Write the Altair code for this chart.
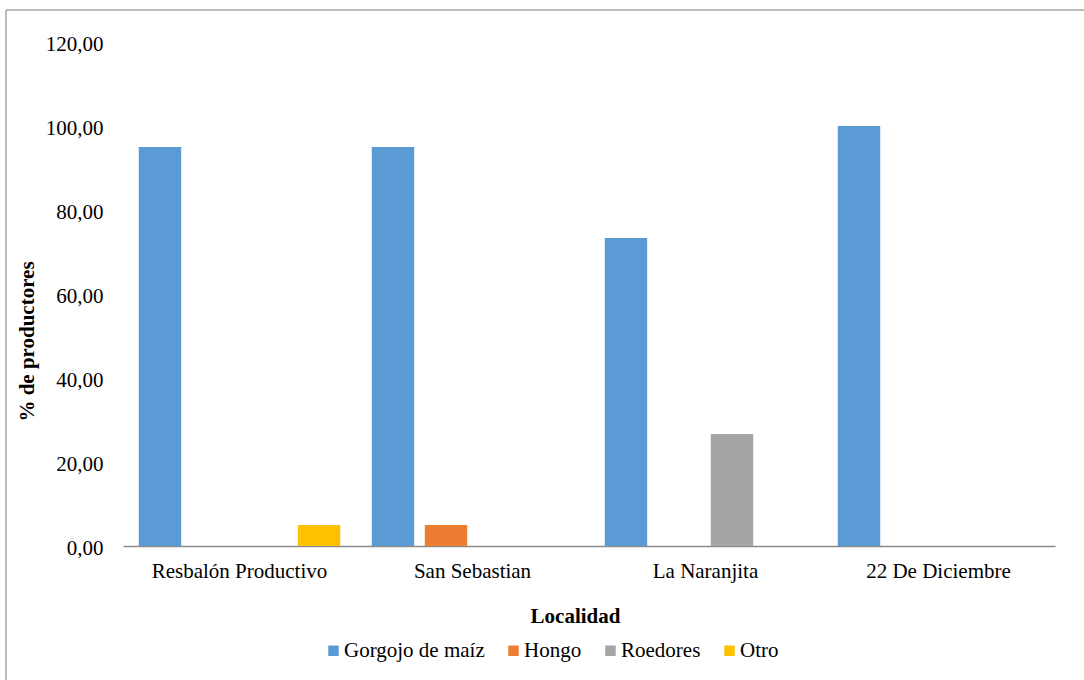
import altair as alt
import pandas as pd

# Categories and series (percentage of producers per locality)
localidades = ["Resbalón Productivo", "San Sebastian", "La Naranjita", "22 De Diciembre"]
plagas = ["Gorgojo de maíz", "Hongo", "Roedores", "Otro"]
gorgojo = [95.0, 95.0, 73.33, 100.0]
hongo = [0.0, 5.0, 0.0, 0.0]
roedores = [0.0, 0.0, 26.67, 0.0]
otro = [5.0, 0.0, 0.0, 0.0]
colores = ["#5B9BD5", "#ED7D31", "#A5A5A5", "#FFC000"]
y_ticks = [0, 20, 40, 60, 80, 100, 120]

rows = []
for serie, valores in zip(plagas, [gorgojo, hongo, roedores, otro]):
    for loc, v in zip(localidades, valores):
        rows.append({"Localidad": loc, "Plaga": serie, "Porcentaje": v})
df = pd.DataFrame(rows)

FONT = "Liberation Serif"
FS = 21

bars = alt.Chart(df).mark_bar().encode(
    x=alt.X(
        "Localidad:N",
        sort=localidades,
        scale=alt.Scale(paddingInner=0.09, paddingOuter=0.045),
        axis=alt.Axis(
            title="Localidad",
            labelAngle=0,
            labelFont=FONT,
            labelFontSize=FS,
            labelColor="#000000",
            labelPadding=14,
            ticks=False,
            tickSize=0,
            domainColor="#8C8C8C",
            domainWidth=1.5,
            titleFont=FONT,
            titleFontSize=FS,
            titleFontWeight="bold",
            titleColor="#000000",
            titleX=452,
            titleY=76,
            titleAlign="center",
            titleBaseline="alphabetic",
        ),
    ),
    xOffset=alt.XOffset(
        "Plaga:N",
        sort=plagas,
        scale=alt.Scale(paddingInner=0.2, paddingOuter=0.1),
    ),
    y=alt.Y(
        "Porcentaje:Q",
        scale=alt.Scale(domain=[0, 120], nice=False),
        axis=alt.Axis(
            title="% de productores",
            values=y_ticks,
            labelExpr="replace(format(datum.value, '.2f'), '.', ',')",
            labelFont=FONT,
            labelFontSize=FS,
            labelColor="#000000",
            labelPadding=20,
            labelOffset=2,
            ticks=False,
            tickSize=0,
            domain=False,
            grid=False,
            titleFont=FONT,
            titleFontSize=FS,
            titleFontWeight="bold",
            titleColor="#000000",
            titleAngle=270,
            titleX=-90,
            titleY=299,
            titleAlign="center",
            titleBaseline="alphabetic",
        ),
    ),
    color=alt.Color(
        "Plaga:N",
        sort=plagas,
        scale=alt.Scale(domain=plagas, range=colores),
        legend=alt.Legend(
            title=None,
            orient="none",
            direction="horizontal",
            legendX=200,
            legendY=598,
            symbolType="square",
            symbolSize=110,
            symbolStrokeWidth=0,
            symbolOpacity=1,
            labelFont=FONT,
            labelFontSize=FS,
            labelColor="#000000",
            labelOffset=0,
            columnPadding=18,
            labelLimit=300,
        ),
    ),
)

# Outer frame of the chart area (left and top edges)
frame = pd.DataFrame({"k": [0]})
left_edge = alt.Chart(frame).mark_rule(color="#A6A6A6", strokeWidth=1.5).encode(
    x=alt.value(-117), y=alt.value(-32), y2=alt.value(640)
)
top_edge = alt.Chart(frame).mark_rule(color="#A6A6A6", strokeWidth=1.5).encode(
    x=alt.value(-117), x2=alt.value(965), y=alt.value(-32)
)

chart = (
    alt.layer(bars, left_edge, top_edge)
    .properties(
        width=932,
        height=504,
        padding={"left": 123, "top": 42, "right": 29, "bottom": 134},
        autosize=alt.AutoSizeParams(type="none"),
        background="#FFFFFF",
    )
    .configure_view(stroke=None)
    .configure_legend(labelFont=FONT, labelFontSize=FS, labelColor="#000000")
)

chart.save("out.html", embed_options={"renderer": "svg", "actions": False})
